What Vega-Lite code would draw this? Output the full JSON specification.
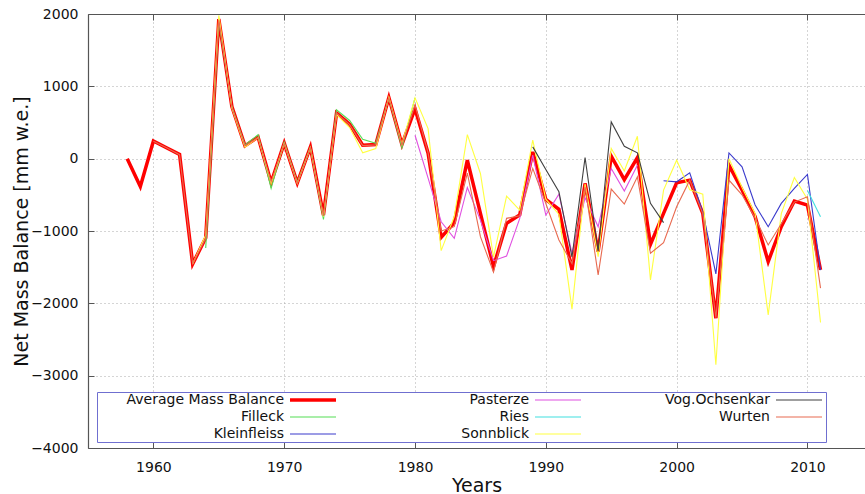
{
  "$schema": "https://vega.github.io/schema/vega-lite/v6.json",
  "width": 777,
  "height": 434,
  "autosize": {"type": "none"},
  "padding": {"left": 88, "top": 14, "right": 0, "bottom": 46},
  "background": "white",
  "config": {
    "view": {"stroke": null},
    "font": "DejaVu Sans",
    "axis": {"labelFont": "DejaVu Sans", "titleFont": "DejaVu Sans", "labelColor": "#111", "titleColor": "#111", "titleFontWeight": "normal", "domainColor": "#555", "tickColor": "#555", "gridColor": "#aaa", "gridDash": [1, 3]}
  },
  "data": {"values": [
    {"g":"Average Mass Balance","yr":1958,"mb":0},{"g":"Average Mass Balance","yr":1959,"mb":-385},{"g":"Average Mass Balance","yr":1960,"mb":245},{"g":"Average Mass Balance","yr":1961,"mb":150},{"g":"Average Mass Balance","yr":1962,"mb":58},{"g":"Average Mass Balance","yr":1963,"mb":-1455},{"g":"Average Mass Balance","yr":1964,"mb":-1095},{"g":"Average Mass Balance","yr":1965,"mb":1930},{"g":"Average Mass Balance","yr":1966,"mb":720},{"g":"Average Mass Balance","yr":1967,"mb":177},{"g":"Average Mass Balance","yr":1968,"mb":300},{"g":"Average Mass Balance","yr":1969,"mb":-330},{"g":"Average Mass Balance","yr":1970,"mb":215},{"g":"Average Mass Balance","yr":1971,"mb":-335},{"g":"Average Mass Balance","yr":1972,"mb":160},{"g":"Average Mass Balance","yr":1973,"mb":-780},{"g":"Average Mass Balance","yr":1974,"mb":632},{"g":"Average Mass Balance","yr":1975,"mb":476},{"g":"Average Mass Balance","yr":1976,"mb":186},{"g":"Average Mass Balance","yr":1977,"mb":196},{"g":"Average Mass Balance","yr":1978,"mb":844},{"g":"Average Mass Balance","yr":1979,"mb":196},{"g":"Average Mass Balance","yr":1980,"mb":690},{"g":"Average Mass Balance","yr":1981,"mb":75},{"g":"Average Mass Balance","yr":1982,"mb":-1087},{"g":"Average Mass Balance","yr":1983,"mb":-885},{"g":"Average Mass Balance","yr":1984,"mb":-21},{"g":"Average Mass Balance","yr":1985,"mb":-756},{"g":"Average Mass Balance","yr":1986,"mb":-1492},{"g":"Average Mass Balance","yr":1987,"mb":-894},{"g":"Average Mass Balance","yr":1988,"mb":-779},{"g":"Average Mass Balance","yr":1989,"mb":94},{"g":"Average Mass Balance","yr":1990,"mb":-563},{"g":"Average Mass Balance","yr":1991,"mb":-701},{"g":"Average Mass Balance","yr":1992,"mb":-1538},{"g":"Average Mass Balance","yr":1993,"mb":-342},{"g":"Average Mass Balance","yr":1994,"mb":-1285},{"g":"Average Mass Balance","yr":1995,"mb":34},{"g":"Average Mass Balance","yr":1996,"mb":-290},{"g":"Average Mass Balance","yr":1997,"mb":16},{"g":"Average Mass Balance","yr":1998,"mb":-1184},{"g":"Average Mass Balance","yr":1999,"mb":-756},{"g":"Average Mass Balance","yr":2000,"mb":-334},{"g":"Average Mass Balance","yr":2001,"mb":-297},{"g":"Average Mass Balance","yr":2002,"mb":-756},{"g":"Average Mass Balance","yr":2003,"mb":-2205},{"g":"Average Mass Balance","yr":2004,"mb":-90},{"g":"Average Mass Balance","yr":2005,"mb":-434},{"g":"Average Mass Balance","yr":2006,"mb":-803},{"g":"Average Mass Balance","yr":2007,"mb":-1423},{"g":"Average Mass Balance","yr":2008,"mb":-940},{"g":"Average Mass Balance","yr":2009,"mb":-586},{"g":"Average Mass Balance","yr":2010,"mb":-641},{"g":"Average Mass Balance","yr":2011,"mb":-1538},
    {"g":"Filleck","yr":1964,"mb":-1235},{"g":"Filleck","yr":1965,"mb":1900},{"g":"Filleck","yr":1966,"mb":720},{"g":"Filleck","yr":1967,"mb":190},{"g":"Filleck","yr":1968,"mb":330},{"g":"Filleck","yr":1969,"mb":-410},{"g":"Filleck","yr":1970,"mb":230},{"g":"Filleck","yr":1971,"mb":-330},{"g":"Filleck","yr":1972,"mb":160},{"g":"Filleck","yr":1973,"mb":-840},{"g":"Filleck","yr":1974,"mb":676},{"g":"Filleck","yr":1975,"mb":528},{"g":"Filleck","yr":1976,"mb":268},{"g":"Filleck","yr":1977,"mb":213},{"g":"Filleck","yr":1978,"mb":840},{"g":"Filleck","yr":1979,"mb":150},{"g":"Filleck","yr":1980,"mb":840},
    {"g":"Kleinfleiss","yr":1999,"mb":-306},{"g":"Kleinfleiss","yr":2000,"mb":-320},{"g":"Kleinfleiss","yr":2001,"mb":-196},{"g":"Kleinfleiss","yr":2002,"mb":-740},{"g":"Kleinfleiss","yr":2003,"mb":-1593},{"g":"Kleinfleiss","yr":2004,"mb":80},{"g":"Kleinfleiss","yr":2005,"mb":-113},{"g":"Kleinfleiss","yr":2006,"mb":-641},{"g":"Kleinfleiss","yr":2007,"mb":-940},{"g":"Kleinfleiss","yr":2008,"mb":-618},{"g":"Kleinfleiss","yr":2009,"mb":-411},{"g":"Kleinfleiss","yr":2010,"mb":-218},{"g":"Kleinfleiss","yr":2011,"mb":-1540},
    {"g":"Pasterze","yr":1980,"mb":324},{"g":"Pasterze","yr":1981,"mb":-270},{"g":"Pasterze","yr":1982,"mb":-872},{"g":"Pasterze","yr":1983,"mb":-1101},{"g":"Pasterze","yr":1984,"mb":-398},{"g":"Pasterze","yr":1985,"mb":-850},{"g":"Pasterze","yr":1986,"mb":-1410},{"g":"Pasterze","yr":1987,"mb":-1345},{"g":"Pasterze","yr":1988,"mb":-830},{"g":"Pasterze","yr":1989,"mb":50},{"g":"Pasterze","yr":1990,"mb":-779},{"g":"Pasterze","yr":1991,"mb":-490},{"g":"Pasterze","yr":1992,"mb":-1308},{"g":"Pasterze","yr":1993,"mb":-540},{"g":"Pasterze","yr":1994,"mb":-940},{"g":"Pasterze","yr":1995,"mb":-135},{"g":"Pasterze","yr":1996,"mb":-448},{"g":"Pasterze","yr":1997,"mb":-90},
    {"g":"Ries","yr":2010,"mb":-440},{"g":"Ries","yr":2011,"mb":-803},
    {"g":"Sonnblick","yr":1963,"mb":-1455},{"g":"Sonnblick","yr":1964,"mb":-1055},{"g":"Sonnblick","yr":1965,"mb":1980},{"g":"Sonnblick","yr":1966,"mb":700},{"g":"Sonnblick","yr":1967,"mb":160},{"g":"Sonnblick","yr":1968,"mb":290},{"g":"Sonnblick","yr":1969,"mb":-340},{"g":"Sonnblick","yr":1970,"mb":210},{"g":"Sonnblick","yr":1971,"mb":-340},{"g":"Sonnblick","yr":1972,"mb":150},{"g":"Sonnblick","yr":1973,"mb":-800},{"g":"Sonnblick","yr":1974,"mb":610},{"g":"Sonnblick","yr":1975,"mb":430},{"g":"Sonnblick","yr":1976,"mb":82},{"g":"Sonnblick","yr":1977,"mb":140},{"g":"Sonnblick","yr":1978,"mb":850},{"g":"Sonnblick","yr":1979,"mb":200},{"g":"Sonnblick","yr":1980,"mb":840},{"g":"Sonnblick","yr":1981,"mb":416},{"g":"Sonnblick","yr":1982,"mb":-1271},{"g":"Sonnblick","yr":1983,"mb":-800},{"g":"Sonnblick","yr":1984,"mb":333},{"g":"Sonnblick","yr":1985,"mb":-205},{"g":"Sonnblick","yr":1986,"mb":-1360},{"g":"Sonnblick","yr":1987,"mb":-517},{"g":"Sonnblick","yr":1988,"mb":-710},{"g":"Sonnblick","yr":1989,"mb":255},{"g":"Sonnblick","yr":1990,"mb":-560},{"g":"Sonnblick","yr":1991,"mb":-770},{"g":"Sonnblick","yr":1992,"mb":-2080},{"g":"Sonnblick","yr":1993,"mb":-350},{"g":"Sonnblick","yr":1994,"mb":-1354},{"g":"Sonnblick","yr":1995,"mb":140},{"g":"Sonnblick","yr":1996,"mb":-170},{"g":"Sonnblick","yr":1997,"mb":310},{"g":"Sonnblick","yr":1998,"mb":-1676},{"g":"Sonnblick","yr":1999,"mb":-434},{"g":"Sonnblick","yr":2000,"mb":-21},{"g":"Sonnblick","yr":2001,"mb":-430},{"g":"Sonnblick","yr":2002,"mb":-490},{"g":"Sonnblick","yr":2003,"mb":-2850},{"g":"Sonnblick","yr":2004,"mb":0},{"g":"Sonnblick","yr":2005,"mb":-400},{"g":"Sonnblick","yr":2006,"mb":-760},{"g":"Sonnblick","yr":2007,"mb":-2159},{"g":"Sonnblick","yr":2008,"mb":-760},{"g":"Sonnblick","yr":2009,"mb":-260},{"g":"Sonnblick","yr":2010,"mb":-560},{"g":"Sonnblick","yr":2011,"mb":-2265},
    {"g":"Vog.Ochsenkar","yr":1989,"mb":163},{"g":"Vog.Ochsenkar","yr":1990,"mb":-150},{"g":"Vog.Ochsenkar","yr":1991,"mb":-458},{"g":"Vog.Ochsenkar","yr":1992,"mb":-1360},{"g":"Vog.Ochsenkar","yr":1993,"mb":16},{"g":"Vog.Ochsenkar","yr":1994,"mb":-1280},{"g":"Vog.Ochsenkar","yr":1995,"mb":508},{"g":"Vog.Ochsenkar","yr":1996,"mb":172},{"g":"Vog.Ochsenkar","yr":1997,"mb":80},{"g":"Vog.Ochsenkar","yr":1998,"mb":-618},{"g":"Vog.Ochsenkar","yr":1999,"mb":-885},
    {"g":"Wurten","yr":1960,"mb":240},{"g":"Wurten","yr":1961,"mb":150},{"g":"Wurten","yr":1962,"mb":55},{"g":"Wurten","yr":1963,"mb":-1450},{"g":"Wurten","yr":1964,"mb":-1100},{"g":"Wurten","yr":1965,"mb":1920},{"g":"Wurten","yr":1966,"mb":710},{"g":"Wurten","yr":1967,"mb":180},{"g":"Wurten","yr":1968,"mb":290},{"g":"Wurten","yr":1969,"mb":-320},{"g":"Wurten","yr":1970,"mb":210},{"g":"Wurten","yr":1971,"mb":-340},{"g":"Wurten","yr":1972,"mb":150},{"g":"Wurten","yr":1973,"mb":-790},{"g":"Wurten","yr":1974,"mb":630},{"g":"Wurten","yr":1975,"mb":470},{"g":"Wurten","yr":1976,"mb":180},{"g":"Wurten","yr":1977,"mb":190},{"g":"Wurten","yr":1978,"mb":840},{"g":"Wurten","yr":1979,"mb":190},{"g":"Wurten","yr":1980,"mb":740},{"g":"Wurten","yr":1981,"mb":80},{"g":"Wurten","yr":1982,"mb":-1000},{"g":"Wurten","yr":1983,"mb":-940},{"g":"Wurten","yr":1984,"mb":-200},{"g":"Wurten","yr":1985,"mb":-1078},{"g":"Wurten","yr":1986,"mb":-1570},{"g":"Wurten","yr":1987,"mb":-825},{"g":"Wurten","yr":1988,"mb":-790},{"g":"Wurten","yr":1989,"mb":-135},{"g":"Wurten","yr":1990,"mb":-620},{"g":"Wurten","yr":1991,"mb":-1124},{"g":"Wurten","yr":1992,"mb":-1450},{"g":"Wurten","yr":1993,"mb":-390},{"g":"Wurten","yr":1994,"mb":-1607},{"g":"Wurten","yr":1995,"mb":-421},{"g":"Wurten","yr":1996,"mb":-628},{"g":"Wurten","yr":1997,"mb":-251},{"g":"Wurten","yr":1998,"mb":-1308},{"g":"Wurten","yr":1999,"mb":-1161},{"g":"Wurten","yr":2000,"mb":-664},{"g":"Wurten","yr":2001,"mb":-297},{"g":"Wurten","yr":2002,"mb":-760},{"g":"Wurten","yr":2003,"mb":-2200},{"g":"Wurten","yr":2004,"mb":-297},{"g":"Wurten","yr":2005,"mb":-500},{"g":"Wurten","yr":2006,"mb":-820},{"g":"Wurten","yr":2007,"mb":-1193},{"g":"Wurten","yr":2008,"mb":-900},{"g":"Wurten","yr":2009,"mb":-600},{"g":"Wurten","yr":2010,"mb":-527},{"g":"Wurten","yr":2011,"mb":-1790}
  ]},
  "encoding": {
    "y": {"field": "mb", "type": "quantitative", "scale": {"domain": [-4000, 2000], "nice": false},
      "axis": {"values": [-4000, -3000, -2000, -1000, 0, 1000, 2000], "format": "d", "title": "Net Mass Balance [mm w.e.]", "titleFontSize": 19, "titlePadding": -1, "labelFontSize": 14, "tickSize": -6, "labelPadding": 16, "grid": true, "domainWidth": 1.2}},
    "color": {"field": "g", "type": "nominal",
      "scale": {"domain": ["Average Mass Balance", "Filleck", "Kleinfleiss", "Pasterze", "Ries", "Sonnblick", "Vog.Ochsenkar", "Wurten"],
                "range": ["#ff0000", "#55dd55", "#3a3acc", "#e050e0", "#40e0e0", "#ffff40", "#404040", "#e86a50"]},
      "legend": {"title": null, "orient": "none", "legendX": 9, "legendY": 378, "direction": "vertical", "columns": 3, "symbolType": "stroke", "symbolSize": 2116, "symbolStrokeWidth": 1.2, "symbolOffset": 208,
        "labelFont": "DejaVu Sans", "labelFontSize": 14, "labelColor": "#111", "labelAlign": "right", "labelOffset": -36, "columnPadding": -1, "rowPadding": 3,
        "fillColor": "white", "strokeColor": "#6f6fd0", "padding": 1,
        "encode": {"symbols": {"update": {"strokeWidth": {"signal": "datum.value === 'Average Mass Balance' ? 3.5 : 1.2"}}}}}
    }
  },
  "layer": [
    {
      "transform": [{"filter": "datum.g === 'Average Mass Balance'"}],
      "mark": {"type": "line", "strokeWidth": 3.5, "strokeJoin": "miter"},
      "encoding": {
        "x": {"field": "yr", "type": "quantitative", "scale": {"domain": [1955, 2014.4], "nice": false, "zero": false},
          "axis": {"orient": "bottom", "values": [1960, 1970, 1980, 1990, 2000, 2010], "format": "d", "title": "Years", "titleFontSize": 19, "titlePadding": 2, "labelFontSize": 14, "tickSize": -6, "labelPadding": 18, "grid": true, "domainWidth": 1.2}}
      }
    },
    {
      "transform": [{"filter": "datum.g !== 'Average Mass Balance'"}],
      "mark": {"type": "line", "strokeWidth": 1.1},
      "encoding": {
        "x": {"field": "yr", "type": "quantitative", "axis": {"orient": "top", "labels": false, "title": null, "values": [1960, 1970, 1980, 1990, 2000, 2010], "tickSize": -6, "grid": false, "domainWidth": 1.2}}
      }
    }
  ]
}
